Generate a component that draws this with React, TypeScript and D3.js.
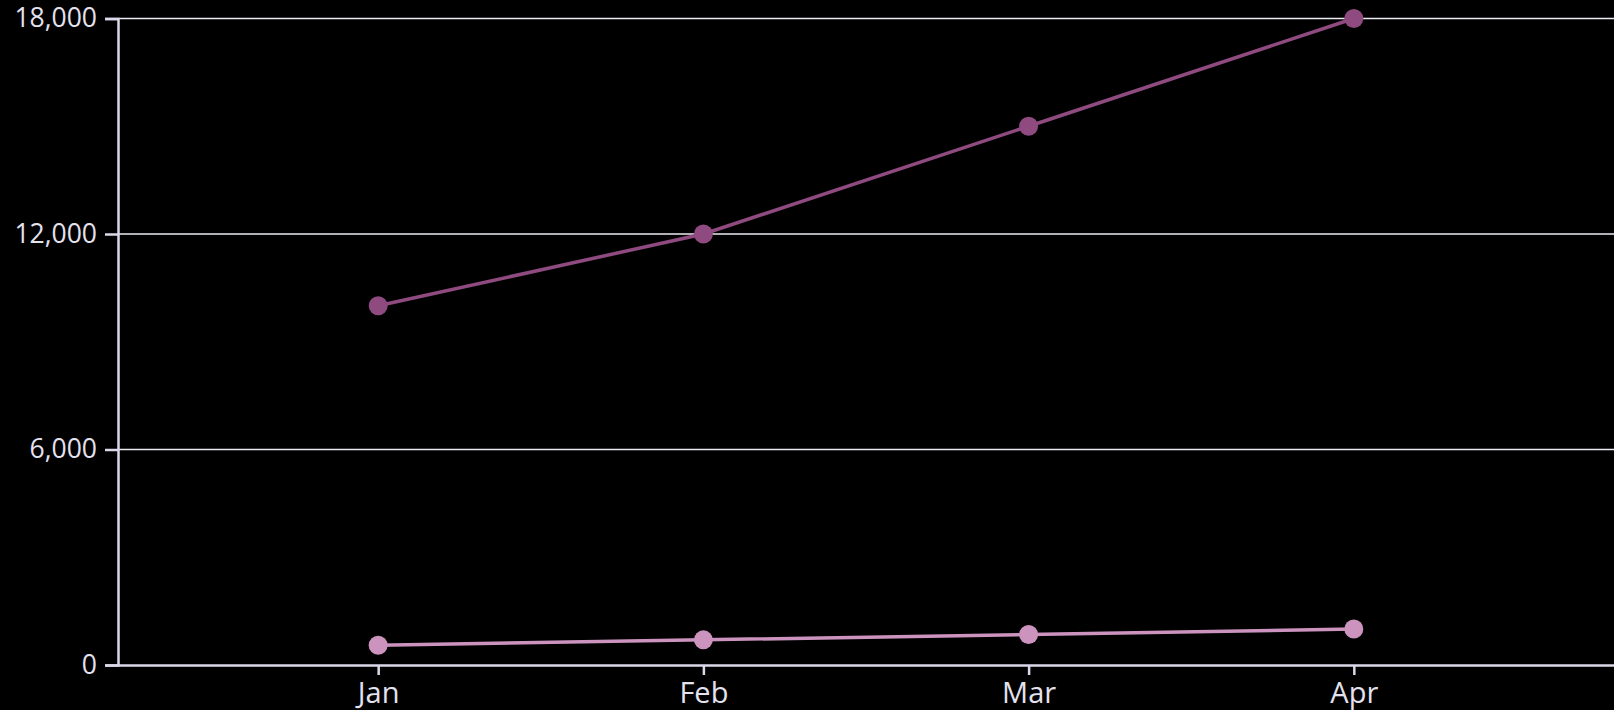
import React, { useEffect, useRef } from "react";
import * as d3 from "d3";

const months = ["Jan", "Feb", "Mar", "Apr"];
const seriesA = [10000, 12000, 15000, 18000];
const seriesB = [550, 700, 850, 1000];
const yTicks = [0, 6000, 12000, 18000];

const W = 1614;
const H = 710;
const M = { left: 118, right: 0, top: 18.5, bottom: 45 };

export default function App() {
  const ref = useRef<SVGSVGElement>(null);
  useEffect(() => {
    document.body.style.margin = "0";
    document.body.style.background = "#000";
    const svg = d3.select(ref.current);
    svg.selectAll("*").remove();
    const x = d3.scalePoint<string>().domain(months).range([M.left, W - M.right]).padding(0.8);
    const y = d3.scaleLinear().domain([0, 18000]).range([H - M.bottom, M.top]);

    svg.append("rect").attr("width", W).attr("height", H).attr("fill", "#000");

    const axisCol = "#dcd8ea";
    const textCol = "#e4e2ee";
    const font = "'Open Sans', sans-serif";

    // gridlines
    svg.append("g").selectAll("line").data(yTicks.filter((d) => d > 0)).join("line")
      .attr("x1", M.left).attr("x2", W)
      .attr("y1", (d) => y(d)).attr("y2", (d) => y(d))
      .attr("stroke", "#ecebf2").attr("stroke-width", 1.6);

    // y axis
    const ya = svg.append("g").attr("transform", `translate(${M.left},0)`)
      .call(d3.axisLeft(y).tickValues(yTicks).tickSize(13).tickPadding(8).tickFormat(d3.format(",")));
    ya.select(".domain").attr("stroke", axisCol).attr("stroke-width", 2.5);
    ya.selectAll(".tick line").attr("stroke", axisCol).attr("stroke-width", 2.5);
    ya.selectAll(".tick text").attr("fill", textCol).attr("font-size", 26.5).attr("font-family", font);

    // x axis
    const xa = svg.append("g").attr("transform", `translate(0,${y(0)})`)
      .call(d3.axisBottom(x).tickSize(10).tickPadding(7).tickSizeOuter(0));
    xa.select(".domain").attr("stroke", axisCol).attr("stroke-width", 2.5);
    xa.selectAll(".tick line").attr("stroke", axisCol).attr("stroke-width", 2.5);
    xa.selectAll(".tick text").attr("fill", textCol).attr("font-size", 29).attr("font-family", font);

    const series = [
      { vals: seriesA, color: "#8f4a80" },
      { vals: seriesB, color: "#cc93bf" },
    ];
    const line = d3.line<number>().x((_, i) => x(months[i])!).y((d) => y(d));
    series.forEach((s) => {
      svg.append("path").datum(s.vals).attr("d", line).attr("fill", "none")
        .attr("stroke", s.color).attr("stroke-width", 3.5);
      svg.append("g").selectAll("circle").data(s.vals).join("circle")
        .attr("cx", (_, i) => x(months[i])!).attr("cy", (d) => y(d)).attr("r", 9.5)
        .attr("fill", s.color);
    });
  }, []);
  return <svg ref={ref} width={W} height={H} style={{ display: "block" }} />;
}
